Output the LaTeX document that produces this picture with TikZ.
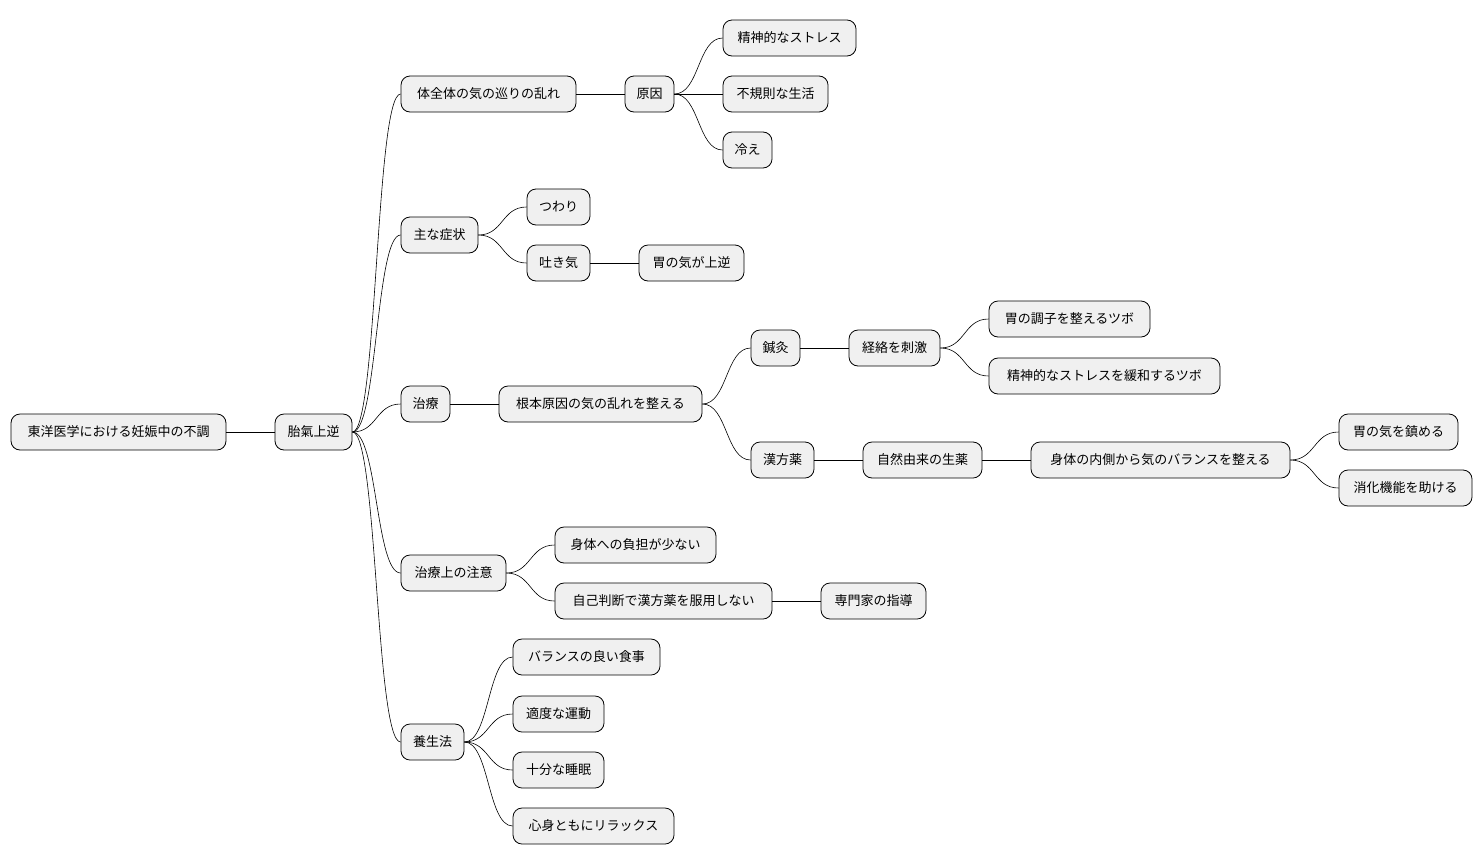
\documentclass[tikz,border=0pt]{standalone}
\usepackage{fontspec}
\setmainfont{Noto Sans CJK JP}
\begin{document}
\begin{tikzpicture}[x=1pt,y=-1pt,
  box/.style={draw=black,line width=0.8pt,fill=black!6,rounded corners=9pt,minimum height=36pt,inner sep=0pt,font=\fontsize{13}{15}\selectfont},
  con/.style={draw=black,line width=0.6pt}]
\useasboundingbox (0,0) rectangle (1482,865);
\newcommand{\N}[5]{\node[box,minimum width={#3-#2}] (#1) at ({(#2+#3)/2},#4) {#5};}
\newcommand{\C}[2]{\draw[con] (#1.east) .. controls +(25,0) and +(-25,0) .. (#2.west);}
\N{r}{11}{226}{432}{東洋医学における妊娠中の不調}
\N{a}{275}{352}{432}{胎氣上逆}
\N{b1}{401}{576}{94}{体全体の気の巡りの乱れ}
\N{b1a}{625}{674}{94}{原因}
\N{c1}{723}{856}{38}{精神的なストレス}
\N{c2}{723}{828}{94}{不規則な生活}
\N{c3}{723}{772}{150}{冷え}
\N{b2}{401}{478}{235}{主な症状}
\N{d1}{527}{590}{207}{つわり}
\N{d2}{527}{590}{263}{吐き気}
\N{d2a}{639}{744}{263}{胃の気が上逆}
\N{b3}{401}{450}{404}{治療}
\N{e}{499}{702}{404}{根本原因の気の乱れを整える}
\N{f1}{751}{800}{348}{鍼灸}
\N{f1a}{849}{940}{348}{経絡を刺激}
\N{g1}{989}{1150}{319}{胃の調子を整えるツボ}
\N{g2}{989}{1220}{376}{精神的なストレスを緩和するツボ}
\N{f2}{751}{814}{460}{漢方薬}
\N{f2a}{863}{982}{460}{自然由来の生薬}
\N{f2b}{1031}{1290}{460}{身体の内側から気のバランスを整える}
\N{h1}{1339}{1458}{432}{胃の気を鎮める}
\N{h2}{1339}{1472}{488}{消化機能を助ける}
\N{b4}{401}{506}{573}{治療上の注意}
\N{i1}{555}{716}{545}{身体への負担が少ない}
\N{i2}{555}{772}{601}{自己判断で漢方薬を服用しない}
\N{i2a}{821}{926}{601}{専門家の指導}
\N{b5}{401}{464}{742}{養生法}
\N{j1}{513}{660}{657}{バランスの良い食事}
\N{j2}{513}{604}{714}{適度な運動}
\N{j3}{513}{604}{770}{十分な睡眠}
\N{j4}{513}{674}{826}{心身ともにリラックス}
\C{r}{a}
\C{a}{b1}\C{a}{b2}\C{a}{b3}\C{a}{b4}\C{a}{b5}
\C{b1}{b1a}\C{b1a}{c1}\C{b1a}{c2}\C{b1a}{c3}
\C{b2}{d1}\C{b2}{d2}\C{d2}{d2a}
\C{b3}{e}\C{e}{f1}\C{e}{f2}\C{f1}{f1a}\C{f1a}{g1}\C{f1a}{g2}
\C{f2}{f2a}\C{f2a}{f2b}\C{f2b}{h1}\C{f2b}{h2}
\C{b4}{i1}\C{b4}{i2}\C{i2}{i2a}
\C{b5}{j1}\C{b5}{j2}\C{b5}{j3}\C{b5}{j4}
\end{tikzpicture}
\end{document}
